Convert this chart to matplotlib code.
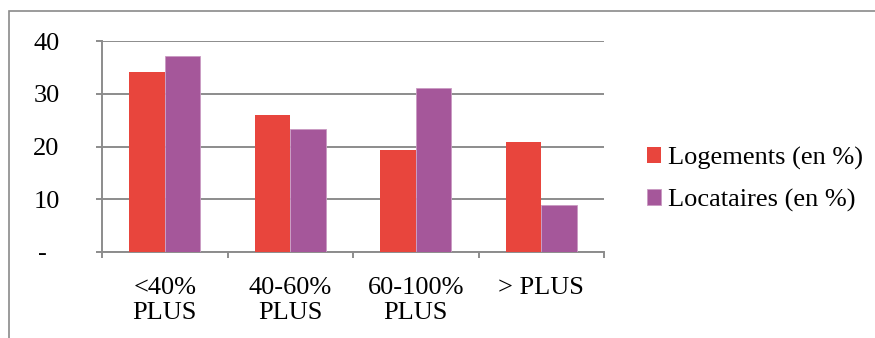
import matplotlib
matplotlib.use("Agg")
import matplotlib.pyplot as plt
import numpy as np
from matplotlib.patches import Rectangle

RED = "#e8453d"
PURPLE = "#a5579a"
GRID = "#8c8c8c"

categories = ["<40%\nPLUS", "40-60%\nPLUS", "60-100%\nPLUS", "> PLUS"]
logements = [34.2, 26.0, 19.3, 20.9]
locataires = [37.2, 23.3, 31.0, 8.9]
yticks = [0, 10, 20, 30, 40]
ytick_labels = ["-  ", "10", "20", "30", "40"]

plt.rcParams["font.family"] = ["Liberation Serif", "DejaVu Serif"]

W, H = 875, 338
FS = 19
fig = plt.figure(figsize=(W / 100, H / 100), dpi=100)
fig.patch.set_facecolor("white")

# outer chart frame (clipped at right and bottom in the reference)
fig.add_artist(Rectangle((9 / W, -0.1), 1.2, 1.1 - 11 / H, transform=fig.transFigure,
                         fill=False, edgecolor="#8a8a8a", linewidth=1.2))

ax = fig.add_axes([102 / W, (H - 252) / H, (604 - 102) / W, (252 - 41) / H])
x = np.arange(len(categories))
w = 0.283
ax.bar(x - w / 2, logements, w, color=RED, label="Logements (en %)", zorder=3)
ax.bar(x + w / 2, locataires, w, color=PURPLE, label="Locataires (en %)", zorder=3,
       edgecolor="#c99ac2", linewidth=0.6)

ax.set_xlim(-0.5, len(categories) - 0.5)
ax.set_ylim(0, 40)
ax.set_yticks(yticks)
ax.set_yticklabels(ytick_labels)
ax.yaxis.grid(True, color=GRID, linewidth=1.4, zorder=0)
ax.set_axisbelow(True)

ax.set_xticks(x)
ax.set_xticklabels(categories, linespacing=1.17)
ax.set_xticks(np.arange(len(categories) + 1) - 0.5, minor=True)
ax.tick_params(axis="x", which="major", length=0, pad=18, labelsize=FS)
ax.tick_params(axis="x", which="minor", length=4.5, color=GRID, width=1.4)
ax.tick_params(axis="y", length=4.5, color=GRID, width=1.4, pad=26, labelsize=FS)

for s in ("top", "right"):
    ax.spines[s].set_visible(False)
for s in ("left", "bottom"):
    ax.spines[s].set_color(GRID)
    ax.spines[s].set_linewidth(1.4)

ax.legend(loc="center left", bbox_to_anchor=(636 / W, (H - 179) / H),
          bbox_transform=fig.transFigure, frameon=False, fontsize=FS,
          handlelength=0.55, handleheight=0.55, handletextpad=0.25,
          labelspacing=0.72, borderaxespad=0)

fig.savefig("out.png", dpi=100, facecolor="white")
